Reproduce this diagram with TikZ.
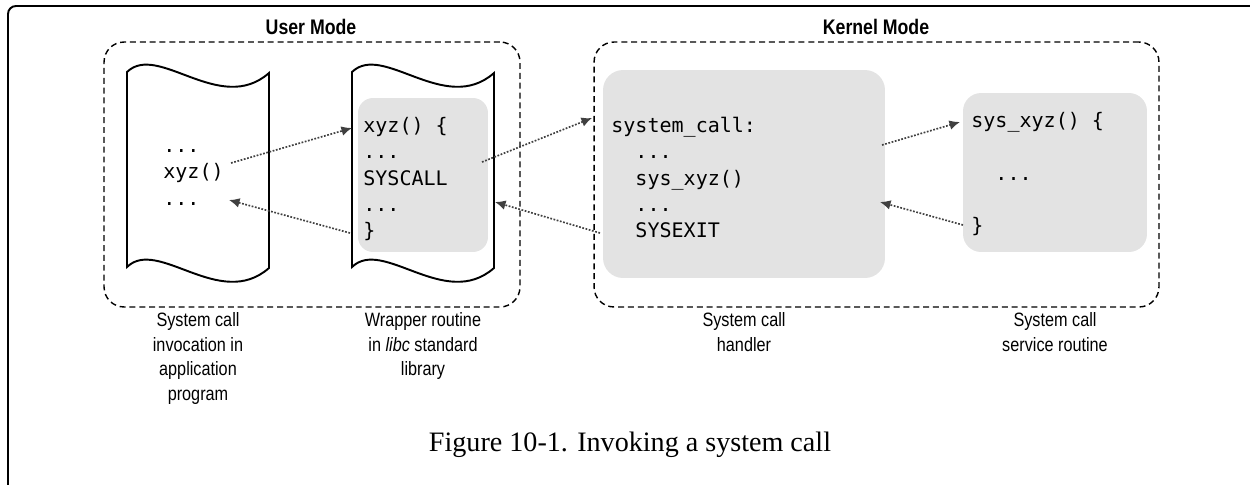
\documentclass[tikz,border=0pt]{standalone}
\usepackage{fontspec}
\usepackage{tikz}
\usetikzlibrary{positioning, calc, arrows.meta}

\newfontfamily\codefont{DejaVu Sans Mono}
\newfontfamily\lblfont[FakeStretch=0.84]{Liberation Sans}
\newfontfamily\figfont{Liberation Serif}

\definecolor{boxgray}{HTML}{E3E3E3}
\definecolor{arrowgray}{HTML}{404040}

\begin{document}
\begin{tikzpicture}[x=0.02cm, y=-0.02cm,
  every node/.style={inner sep=0pt},
  code/.style={font={\codefont\fontsize{11.4pt}{15pt}\selectfont}, align=left, anchor=north west},
  modebox/.style={draw, dash pattern=on 3.4pt off 2.2pt, line width=0.8pt, rounded corners=0.4cm},
  modelabel/.style={font={\lblfont\bfseries\fontsize{12pt}{14pt}\selectfont}},
  caption/.style={font={\lblfont\fontsize{11pt}{14pt}\selectfont}, align=center, anchor=north},
  graybox/.style={fill=boxgray, rounded corners=0.3cm},
  scroll/.style={line width=1.1pt, line join=miter},
  callarrow/.style={arrowgray, line width=0.95pt, dash pattern=on 1pt off 0.9pt, -{Latex[length=6pt,width=5.5pt]}}]

\useasboundingbox (0,0) rectangle (1250,484);

% page frame, only its top left corner is shown
\draw[line width=1.1pt, rounded corners=0.16cm] (8,490) -- (8,6) -- (1256,6);

% user mode and kernel mode
\node[modebox, minimum width=8.32cm, minimum height=5.3cm] (user) at (312,174.5) {};
\node[modebox, minimum width=11.3cm, minimum height=5.3cm] (kernel) at (876.5,174.5) {};
\node[modelabel] (userlbl) at (311,27) {User Mode};
\node[modelabel] (kernellbl) at (876,27) {Kernel Mode};

% the two program scrolls
\draw[scroll] (127,72) .. controls (158,42) and (220,116) .. (269,73) -- (269,268)
  .. controls (220,311) and (158,237) .. (127,267) -- cycle;
\draw[scroll] (352,72) .. controls (383,42) and (445,116) .. (494,73) -- (494,268)
  .. controls (445,311) and (383,237) .. (352,267) -- cycle;

% gray code boxes
\node[graybox, minimum width=2.6cm, minimum height=3.08cm] (wrap) at (423,175) {};
\node[graybox, minimum width=5.64cm, minimum height=4.16cm, rounded corners=0.4cm] (handler) at (744,174) {};
\node[graybox, minimum width=3.68cm, minimum height=3.18cm, rounded corners=0.36cm] (service) at (1055,172.5) {};

% code
\node[code] (appcode) at (163,133.5) {\strut...\\xyz()\\...};
\node[code] (wrapcode) at (363,113.5) {\strut xyz() \{\\...\\SYSCALL\\...\\\}};
\node[code] (handlercode) at (611,113.5) {\strut system\_call:\\\hphantom{xx}...\\\hphantom{xx}sys\_xyz()\\\hphantom{xx}...\\\hphantom{xx}SYSEXIT};
\node[code] (servicecode) at (971,108.5) {\strut sys\_xyz() \{\\[15pt]\hphantom{xx}...\\[15pt]\}};

% arrow ends
\coordinate (callfrom) at (231,163);
\coordinate (callto)   at (352,128);
\coordinate (retfrom)  at (350,233);
\coordinate (retto)    at (229,200);
\coordinate (trapfrom) at (482,162);
\coordinate (trapto)   at (592,118);
\coordinate (exitfrom) at (600,233);
\coordinate (exitto)   at (495,202);
\coordinate (svcfrom)  at (882,145);
\coordinate (svcto)    at (960,122);
\coordinate (backfrom) at (963,225);
\coordinate (backto)   at (880,202);

\draw[callarrow] (callfrom) -- (callto);
\draw[callarrow] (retfrom) -- (retto);
\draw[callarrow] (trapfrom) -- (trapto);
\draw[callarrow] (exitfrom) -- (exitto);
\draw[callarrow] (svcfrom) -- (svcto);
\draw[callarrow] (backfrom) -- (backto);

% captions
\node[caption] (appcap) at (198,309) {\strut System call\\invocation in\\application\\program};
\node[caption] (wrapcap) at (423,309) {\strut Wrapper routine\\in \textit{libc} standard\\library};
\node[caption] (handlercap) at (744,309) {\strut System call\\handler};
\node[caption] (servicecap) at (1055,309) {\strut System call\\service routine};

\node[font={\figfont\fontsize{16pt}{18pt}\selectfont}, anchor=base] (figcap) at (630,451) {Figure 10-1. Invoking a system call};

\end{tikzpicture}
\end{document}
